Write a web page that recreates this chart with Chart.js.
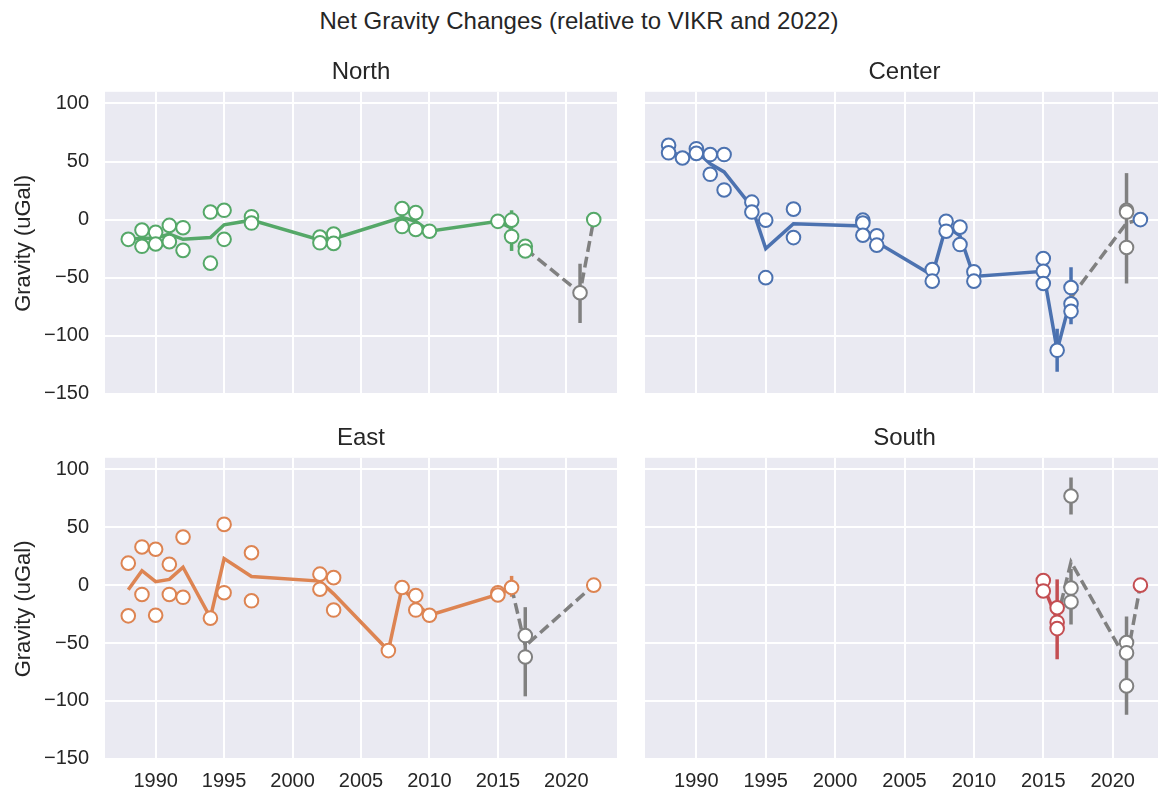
<!DOCTYPE html>
<html>
<head>
    <title>Net Gravity Changes</title>
    <script src="https://cdn.jsdelivr.net/npm/chart.js"></script>
    <style>
        html, body { margin: 0; padding: 0; width: 1158px; height: 793px; overflow: hidden; background: #fff; }
        body { position: relative; font-family: 'Liberation Sans', Arial, sans-serif; }
        #suptitle { position: absolute; left: 0; top: 6.6px; width: 1158px; text-align: center;
                    font-size: 24px; line-height: 28.8px; color: #262626; }
        canvas { position: absolute; }
    </style>
</head>
<body>
<div id="suptitle">Net Gravity Changes (relative to VIKR and 2022)</div>
<canvas id="north" width="617" height="355" style="left:0px; top:58px;"></canvas>
<canvas id="center" width="519" height="355" style="left:645px; top:58px;"></canvas>
<canvas id="east" width="617" height="369" style="left:0px; top:424px;"></canvas>
<canvas id="south" width="519" height="369" style="left:645px; top:424px;"></canvas>

<script>
    // axis ticks
    const xTicks = [1990, 1995, 2000, 2005, 2010, 2015, 2020];
    const yTicks = [100, 50, 0, -50, -100, -150];

    // North
    const northYears = [1988, 1989, 1989, 1990, 1990, 1991, 1991, 1992, 1992, 1994, 1994, 1995, 1995, 1997, 1997,
        2002, 2002, 2003, 2003, 2008, 2008, 2009, 2009, 2010, 2015, 2016, 2016, 2017, 2017, 2022];
    const northValues = [-17, -9, -23, -11, -21, -5, -19, -7, -26.5, 6.5, -37.5, 8, -17, 2.5, -3,
        -15, -20, -12.5, -20.5, 9.5, -6, 6, -8.5, -10, -1.5, -0.5, -14.5, -23, -27, 0];
    const northMeanYears = [1988, 1989, 1990, 1991, 1992, 1994, 1995, 1997, 2002, 2003, 2008, 2009, 2010, 2015, 2016];
    const northMeanValues = [-17, -16, -16, -12.5, -17, -15.5, -4.5, -0.5, -17.5, -16.5, 2, -1.5, -10, -1.5, -7.5];
    const northErrYears = [2016], northErrLow = [-27], northErrHigh = [8];
    const northGrayYears = [2017, 2021, 2022];
    const northGrayValues = [-25, -63, 0];
    const northGrayPtYears = [2021], northGrayPtValues = [-63];
    const northGrayErrYears = [2021], northGrayErrLow = [-89], northGrayErrHigh = [-38];

    // Center
    const centerYears = [1988, 1988, 1989, 1990, 1990, 1991, 1991, 1992, 1992, 1994, 1994, 1995, 1995, 1997, 1997,
        2002, 2002, 2002, 2003, 2003, 2007, 2007, 2008, 2008, 2009, 2009, 2010, 2010,
        2015, 2015, 2015, 2016, 2017, 2017, 2017, 2022];
    const centerValues = [64, 57.5, 53, 61, 57, 56, 39, 56, 25.5, 15, 6.5, -0.5, -50, 9, -15.5,
        -0.5, -3, -13.5, -14, -22, -43, -53, -1.5, -10, -6.5, -21.5, -45, -53,
        -33.5, -44.5, -55, -112.5, -58.5, -72.5, -79, 0];
    const centerMeanYears = [1988, 1989, 1990, 1991, 1992, 1994, 1995, 1997, 2002, 2003, 2007, 2008, 2009, 2010, 2015, 2016, 2017];
    const centerMeanValues = [60.5, 53, 59, 48, 41, 11, -25, -3.5, -5.5, -19.5, -48, -5.5, -14, -49, -44.5, -112.5, -67];
    const centerErrYears = [2016, 2017], centerErrLow = [-131, -90], centerErrHigh = [-94, -41];
    const centerGrayYears = [2017, 2021, 2022];
    const centerGrayValues = [-67, -3, 0];
    const centerGrayPtYears = [2021, 2021, 2021], centerGrayPtValues = [8, 6.5, -24];
    const centerGrayErrYears = [2021], centerGrayErrLow = [-55], centerGrayErrHigh = [40];

    // East
    const eastYears = [1988, 1988, 1989, 1989, 1990, 1990, 1991, 1991, 1992, 1992, 1994, 1995, 1995, 1997, 1997,
        2002, 2002, 2003, 2003, 2007, 2008, 2009, 2009, 2010, 2015, 2015, 2016, 2022];
    const eastValues = [19, -26.5, 33, -8, 31, -26, 18, -8, 41.5, -10.5, -28.5, 52.5, -6.5, 28, -13.5,
        9.5, -3.5, 6.5, -21.5, -56.5, -2, -9, -21.5, -26, -6.5, -8.5, -2, 0];
    const eastMeanYears = [1988, 1989, 1990, 1991, 1992, 1994, 1995, 1997, 2002, 2003, 2007, 2008, 2009, 2010, 2015, 2016];
    const eastMeanValues = [-4, 12.5, 3, 5, 15.5, -28, 23, 7.5, 3.5, -7.5, -56.5, -2, -15.5, -26, -8, -2];
    const eastErrYears = [2016], eastErrLow = [-10], eastErrHigh = [8];
    const eastGrayYears = [2016, 2017, 2022];
    const eastGrayValues = [-2, -52.5, 0];
    const eastGrayPtYears = [2017, 2017], eastGrayPtValues = [-43.5, -62];
    const eastGrayErrYears = [2017], eastGrayErrLow = [-96], eastGrayErrHigh = [-19];

    // South
    const southYears = [2015, 2015, 2016, 2016, 2016, 2022];
    const southValues = [4, -5, -19.5, -32, -37.5, 0];
    const southMeanYears = [2015, 2016];
    const southMeanValues = [-0.5, -29.5];
    const southErrYears = [2016], southErrLow = [-64], southErrHigh = [5];
    const southGrayYears = [2016, 2017, 2021, 2022];
    const southGrayValues = [-29.5, 20, -65, 0];
    const southGrayPtYears = [2017, 2017, 2017, 2021, 2021, 2021];
    const southGrayPtValues = [77, -2.5, -14.5, -49.5, -58.5, -87];
    const southGrayErrYears = [2017, 2017, 2021], southGrayErrLow = [61, -34, -112], southGrayErrHigh = [93, 14, -27];

    const GRAY = '#808080';
    const TEXT = '#262626';

    Chart.defaults.font.family = "'Liberation Sans', Arial, sans-serif";
    Chart.defaults.color = TEXT;

    function pts(xs, ys) {
        return xs.map((x, i) => ({ x: x, y: ys[i] }));
    }

    // vertical segments split by null points
    function bars(xs, lo, hi) {
        const d = [];
        xs.forEach((x, i) => {
            d.push({ x: x, y: lo[i] }, { x: x, y: hi[i] }, { x: x, y: null });
        });
        return d;
    }

    // fill the plot area like seaborn's darkgrid
    const panelBg = {
        id: 'panelBg',
        beforeDraw(chart) {
            const a = chart.chartArea;
            const ctx = chart.ctx;
            ctx.save();
            ctx.fillStyle = '#EAEAF2';
            ctx.fillRect(a.left, a.top, a.right - a.left, a.bottom - a.top);
            ctx.restore();
        }
    };

    function makePanel(id, title, color, leftCol, bottomRow, d) {
        const markers = (data, edge, order) => ({
            data: data, order: order, showLine: false,
            pointRadius: 6.8, pointBorderWidth: 2,
            pointBackgroundColor: '#fff', pointBorderColor: edge
        });
        const line = (data, c, dash, order) => ({
            data: data, order: order, showLine: true, spanGaps: false,
            borderColor: c, borderWidth: 3.5, borderDash: dash, pointRadius: 0, tension: 0
        });

        new Chart(document.getElementById(id), {
            type: 'scatter',
            data: {
                datasets: [
                    markers(pts(d.years, d.values), color, 0),
                    markers(pts(d.grayPtYears, d.grayPtValues), GRAY, 1),
                    line(pts(d.meanYears, d.meanValues), color, [], 2),
                    line(pts(d.grayYears, d.grayValues), GRAY, [11, 5], 3),
                    line(bars(d.errYears, d.errLow, d.errHigh), color, [], 4),
                    line(bars(d.grayErrYears, d.grayErrLow, d.grayErrHigh), GRAY, [], 5)
                ]
            },
            options: {
                responsive: false,
                animation: false,
                events: [],
                devicePixelRatio: 1,
                // top row keeps room below the plot for the last y label
                layout: { padding: { bottom: bottomRow ? 0 : 18 }, autoPadding: false },
                clip: false,
                plugins: {
                    legend: { display: false },
                    tooltip: { enabled: false },
                    title: {
                        display: true, text: title, fullSize: false, color: TEXT,
                        font: { size: 24, weight: 'normal' }, padding: { top: 0, bottom: 5 }
                    }
                },
                scales: {
                    x: {
                        type: 'linear', min: 1986.3, max: 2023.7,
                        afterBuildTicks: s => { s.ticks = xTicks.map(v => ({ value: v })); },
                        afterFit: s => { s.height = bottomRow ? 33 : 0; s.paddingLeft = 0; s.paddingRight = 0; },
                        grid: { color: '#fff', lineWidth: 2, drawTicks: false },
                        border: { display: false },
                        ticks: {
                            display: bottomRow, padding: 9, maxRotation: 0, autoSkip: false,
                            font: { size: 20 }, color: TEXT, callback: v => String(v)
                        }
                    },
                    y: {
                        min: -151, max: 110,
                        afterBuildTicks: s => { s.ticks = yTicks.map(v => ({ value: v })); },
                        afterFit: s => { s.width = leftCol ? 105 : 0; s.paddingTop = 0; s.paddingBottom = 0; },
                        grid: { color: '#fff', lineWidth: 2, drawTicks: false },
                        border: { display: false },
                        ticks: {
                            display: leftCol, padding: 16, autoSkip: false,
                            font: { size: 20 }, color: TEXT,
                            callback: v => v < 0 ? '\u2212' + Math.abs(v) : String(v)
                        },
                        title: {
                            display: leftCol, text: 'Gravity (uGal)', color: TEXT,
                            font: { size: 22 }, padding: { top: 11, bottom: 0 }
                        }
                    }
                }
            },
            plugins: [panelBg]
        });
    }

    makePanel('north', 'North', '#55A868', true, false, {
        years: northYears, values: northValues,
        meanYears: northMeanYears, meanValues: northMeanValues,
        errYears: northErrYears, errLow: northErrLow, errHigh: northErrHigh,
        grayYears: northGrayYears, grayValues: northGrayValues,
        grayPtYears: northGrayPtYears, grayPtValues: northGrayPtValues,
        grayErrYears: northGrayErrYears, grayErrLow: northGrayErrLow, grayErrHigh: northGrayErrHigh
    });

    makePanel('center', 'Center', '#4C72B0', false, false, {
        years: centerYears, values: centerValues,
        meanYears: centerMeanYears, meanValues: centerMeanValues,
        errYears: centerErrYears, errLow: centerErrLow, errHigh: centerErrHigh,
        grayYears: centerGrayYears, grayValues: centerGrayValues,
        grayPtYears: centerGrayPtYears, grayPtValues: centerGrayPtValues,
        grayErrYears: centerGrayErrYears, grayErrLow: centerGrayErrLow, grayErrHigh: centerGrayErrHigh
    });

    makePanel('east', 'East', '#DD8452', true, true, {
        years: eastYears, values: eastValues,
        meanYears: eastMeanYears, meanValues: eastMeanValues,
        errYears: eastErrYears, errLow: eastErrLow, errHigh: eastErrHigh,
        grayYears: eastGrayYears, grayValues: eastGrayValues,
        grayPtYears: eastGrayPtYears, grayPtValues: eastGrayPtValues,
        grayErrYears: eastGrayErrYears, grayErrLow: eastGrayErrLow, grayErrHigh: eastGrayErrHigh
    });

    makePanel('south', 'South', '#C44E52', false, true, {
        years: southYears, values: southValues,
        meanYears: southMeanYears, meanValues: southMeanValues,
        errYears: southErrYears, errLow: southErrLow, errHigh: southErrHigh,
        grayYears: southGrayYears, grayValues: southGrayValues,
        grayPtYears: southGrayPtYears, grayPtValues: southGrayPtValues,
        grayErrYears: southGrayErrYears, grayErrLow: southGrayErrLow, grayErrHigh: southGrayErrHigh
    });
</script>
</body>
</html>
